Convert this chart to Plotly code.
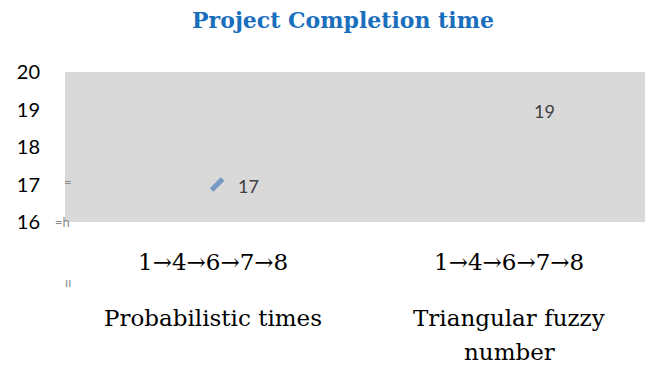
import plotly.graph_objects as go

categories = ["1→4→6→7→8", "1→4→6→7→8"]
groups = ["Probabilistic times", "Triangular fuzzy<br>number"]
values = [17, 19]
y_ticks = [16, 17, 18, 19, 20]

x_pos = list(range(len(values)))

fig = go.Figure()
fig.add_trace(go.Scatter(
    x=x_pos, y=values,
    mode="markers",
    marker=dict(symbol="line-ne", size=[11, 0], color="#4a7ebb",
                line=dict(color="#4a7ebb", width=5)),
    showlegend=False,
))

ann = []
for i, v in enumerate(values):
    ann.append(dict(x=i, y=v, xref="x", yref="y", text=str(v), showarrow=False,
                    xanchor="left", yanchor="middle", xshift=19, yshift=-1,
                    font=dict(family="Lato, Open Sans, sans-serif", size=18, color="#404040")))
serif = "DejaVu Serif, serif"
for i, c in enumerate(categories):
    ann.append(dict(x=i - 0.013, y=-0.267, xref="x", yref="paper", text=c, showarrow=False,
                    font=dict(family=serif, size=23, color="#000000"),
                    xanchor="center", yanchor="middle"))
line_y = [-0.64, -0.867]
for i, g in enumerate(groups):
    for j, part in enumerate(g.split("<br>")):
        ann.append(dict(x=i - 0.013, y=line_y[j], xref="x", yref="paper", text=part,
                        showarrow=False,
                        font=dict(family=serif, size=23, color="#000000"),
                        xanchor="center", yanchor="middle"))
# faint glyph artifacts at left edge
for txt, xx, yy in [("=", 0.006, 0.267), ("=h", -0.004, 0.0), ("ıı", 0.006, -0.4)]:
    ann.append(dict(x=xx, y=yy, xref="paper", yref="paper", text=txt,
                    showarrow=False, font=dict(family="Lato, sans-serif", size=13, color="#8a8a8a"),
                    xanchor="center", yanchor="middle"))

fig.update_layout(
    width=645, height=365,
    margin=dict(l=65, r=0, t=72, b=143),
    paper_bgcolor="white",
    plot_bgcolor="#D9D9D9",
    title=dict(text="<b>Project Completion time</b>", x=343 / 645, xanchor="center",
               y=1 - 20 / 365, yanchor="middle", yref="container",
               font=dict(family=serif, size=22, color="#1a6fbd")),
    xaxis=dict(range=[-0.514, 1.446], showticklabels=False, showgrid=False,
               zeroline=False, showline=False, ticks=""),
    yaxis=dict(range=[16, 20], tickvals=y_ticks, showgrid=False, zeroline=False,
               showline=False, ticks="", ticklabelstandoff=24,
               tickfont=dict(family="Lato, Open Sans, sans-serif", size=20, color="#000000")),
    annotations=ann,
)

fig.write_html("out.html", config={"displayModeBar": False},
               post_script="document.body.style.margin='0';document.body.style.overflow='hidden';")
